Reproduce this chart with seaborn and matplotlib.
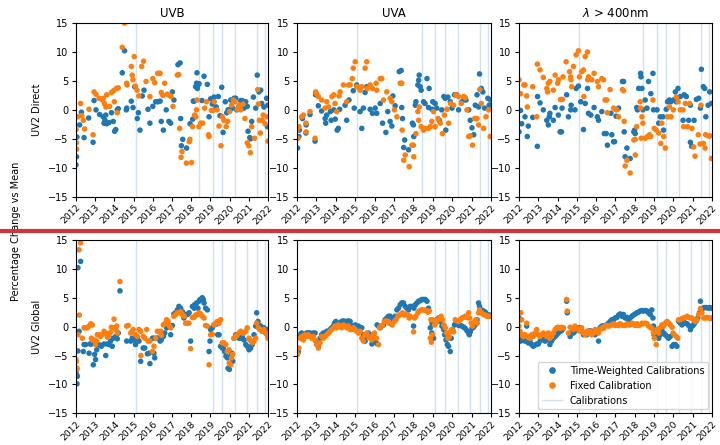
import matplotlib
matplotlib.use("Agg")
import matplotlib.pyplot as plt
import pandas as pd
import seaborn as sns
from matplotlib.lines import Line2D

BASE_YEAR = 2012
bands = ["UVB", "UVA", r"$\lambda$ > 400nm"]
rows = ["UV2 Direct", "UV2 Global"]
series = ["Time-Weighted Calibrations", "Fixed Calibration"]
colors = {"Time-Weighted Calibrations": "#1f77b4", "Fixed Calibration": "#ff7f0e"}
cal_direct = [2015.1, 2018.42, 2019.13, 2019.63, 2020.28, 2021.42, 2021.82]
cal_global = [2015.1, 2019.13, 2019.63, 2020.28, 2020.92, 2021.42, 2021.82]
year_ticks = list(range(2012, 2023))
y_ticks = [-15, -10, -5, 0, 5, 10, 15]

# (years since 2012, percentage change)
uvb_dir_tw = [(0.0,-9.5),(0.03,-8.1),(0.05,-4.7),(0.19,-2.6),(0.28,-0.4),(0.42,-4.8),(0.66,-1.4),(0.89,-5.6),(0.94,1.6),(1.04,0.0),(1.23,-0.8),(1.42,-1.2),(1.46,-2.3),(1.51,-1.8),(1.55,-0.9),(1.6,-2.4),(1.72,-2.2),(1.85,-0.5),(1.94,-2.0),(2.01,-3.7),(2.07,-3.4),(2.15,0.0),(2.2,0.2),(2.41,6.4),(2.53,10.2),(2.62,0.0),(2.64,0.3),(2.88,1.5),(2.97,0.4),(3.06,4.0),(3.19,-1.5),(3.25,-0.5),(3.33,-3.5),(3.45,2.4),(3.54,3.4),(3.75,0.1),(3.85,-2.3),(4.0,0.6),(4.15,1.4),(4.27,1.4),(4.38,1.5),(4.44,-2.0),(4.55,-3.5),(4.7,0.0),(4.84,-2.0),(4.93,-2.3),(5.02,3.1),(5.1,1.7),(5.31,7.8),(5.42,8.1),(5.45,-1.5),(5.49,-6.2),(5.56,-5.1),(5.76,-6.6),(5.94,-2.4),(6.08,-1.6),(6.11,1.5),(6.15,1.5),(6.23,4.0),(6.28,4.6),(6.3,6.4),(6.32,3.7),(6.35,4.3),(6.41,4.5),(6.56,1.6),(6.67,5.8),(6.84,4.4),(6.93,-1.2),(7.01,1.9),(7.1,1.0),(7.19,2.2),(7.3,0.5),(7.41,2.3),(7.5,-1.0),(7.59,3.9),(7.66,-3.9),(7.78,1.4),(7.85,-0.5),(7.92,0.0),(8.02,0.0),(8.06,1.7),(8.15,0.3),(8.23,2.0),(8.32,2.0),(8.37,0.0),(8.49,0.6),(8.58,1.6),(8.66,1.6),(8.75,0.3),(8.84,1.4),(8.92,0.6),(8.96,-3.7),(9.05,-4.8),(9.1,-5.0),(9.15,-2.0),(9.24,2.2),(9.36,0.3),(9.44,6.0),(9.53,3.1),(9.62,3.4),(9.67,1.1),(9.79,0.5),(9.93,2.0),(9.97,-2.9),(10.0,0.8)]
uvb_dir_fx = [(0.0,-3.4),(0.02,-5.7),(0.03,-6.8),(0.1,-1.2),(0.24,1.1),(0.3,-1.0),(0.38,-1.8),(0.45,-3.3),(0.68,0.1),(0.89,-4.3),(0.94,3.1),(1.04,2.7),(1.2,2.0),(1.38,1.7),(1.42,2.0),(1.48,1.1),(1.56,0.5),(1.6,2.6),(1.75,0.6),(1.85,3.0),(1.95,3.3),(2.0,1.4),(2.1,3.7),(2.2,3.8),(2.15,-0.5),(2.41,10.8),(2.53,15.0),(2.64,4.6),(2.66,4.3),(2.88,7.5),(2.93,6.0),(2.97,5.2),(3.03,9.2),(3.1,4.1),(3.18,3.4),(3.27,2.4),(3.42,7.5),(3.52,8.4),(3.65,4.9),(3.85,2.3),(4.0,5.4),(4.1,4.7),(4.25,6.3),(4.32,6.3),(4.38,6.3),(4.44,3.0),(4.52,2.5),(4.62,4.6),(4.75,2.7),(4.88,2.5),(4.95,2.3),(5.05,0.6),(5.28,6.0),(5.35,6.1),(5.4,-3.2),(5.47,-8.2),(5.52,-7.2),(5.75,-9.2),(5.9,-5.5),(5.93,-5.1),(6.02,-9.1),(6.07,-2.9),(6.18,-0.9),(6.25,-1.2),(6.28,0.0),(6.32,1.7),(6.4,-2.9),(6.5,-2.3),(6.6,-2.3),(6.7,0.3),(6.8,1.4),(6.9,-4.3),(6.93,-4.6),(7.05,-0.1),(7.12,-0.1),(7.2,1.4),(7.35,0.0),(7.45,-2.8),(7.55,-6.2),(7.62,-1.2),(7.7,-1.8),(7.82,-2.9),(7.9,-2.0),(8.0,-0.3),(8.1,0.8),(8.2,1.7),(8.28,1.4),(8.4,0.1),(8.5,0.8),(8.58,0.0),(8.7,1.0),(8.8,-1.5),(8.92,-5.7),(9.0,-6.2),(9.08,-7.4),(9.15,-2.9),(9.3,-4.9),(9.46,3.5),(9.5,1.0),(9.55,-1.8),(9.6,-4.0),(9.7,-1.8),(9.75,-0.9),(9.85,-2.4),(9.95,-1.2),(10.0,-5.4)]

uva_dir_tw = [(0.03,-6.6),(0.1,-4.6),(0.12,-3.5),(0.28,-1.5),(0.46,-4.0),(0.47,-2.6),(0.67,-0.8),(0.93,-5.4),(0.96,2.6),(1.1,0.7),(1.27,-0.2),(1.45,-1.5),(1.48,-2.3),(1.53,-0.9),(1.72,-0.3),(1.76,-1.8),(1.9,0.0),(1.97,-1.6),(2.07,-3.5),(2.13,-3.2),(2.2,0.1),(2.48,0.8),(2.56,-1.8),(2.68,1.7),(2.9,3.3),(2.95,0.3),(3.08,4.3),(3.25,-0.3),(3.34,-3.2),(3.42,0.3),(3.51,3.0),(3.6,4.0),(3.77,0.1),(3.89,-0.6),(4.03,0.3),(4.11,-0.6),(4.29,1.1),(4.41,-2.3),(4.58,-3.9),(4.68,-0.3),(4.8,-2.0),(4.89,-2.8),(4.94,2.4),(5.06,0.7),(5.27,6.6),(5.37,6.8),(5.4,0.4),(5.44,-1.5),(5.5,-6.5),(5.55,-5.2),(5.75,-6.9),(5.95,-2.3),(6.0,-2.6),(6.02,-4.6),(6.1,0.8),(6.13,1.4),(6.23,4.3),(6.27,5.1),(6.3,6.0),(6.35,4.0),(6.4,3.4),(6.52,1.4),(6.6,1.1),(6.7,5.4),(6.78,0.4),(6.81,3.7),(6.96,0.1),(7.0,1.4),(7.12,1.1),(7.2,0.3),(7.33,-1.8),(7.46,0.0),(7.57,2.3),(7.64,2.0),(7.67,-3.5),(7.78,2.2),(7.9,1.4),(7.99,0.3),(8.12,2.6),(8.24,2.6),(8.33,0.0),(8.5,1.4),(8.62,2.0),(8.71,1.7),(8.85,0.0),(8.93,-1.8),(9.02,-3.1),(9.11,-4.3),(9.19,0.8),(9.28,2.6),(9.36,0.5),(9.41,6.2),(9.5,3.7),(9.58,3.1),(9.67,0.3),(9.84,2.0),(9.91,0.8),(9.98,1.7)]
uva_dir_fx = [(0.0,-3.5),(0.05,-4.9),(0.1,-2.9),(0.24,-1.2),(0.33,-0.9),(0.46,-2.3),(0.47,-3.8),(0.67,-0.3),(0.93,-4.9),(0.96,3.1),(1.01,2.8),(1.1,2.3),(1.27,1.7),(1.45,0.3),(1.53,1.4),(1.62,0.5),(1.8,2.3),(1.9,2.6),(1.96,1.1),(2.05,-0.3),(2.17,2.4),(2.22,3.1),(2.39,4.3),(2.56,1.4),(2.66,4.3),(2.74,4.3),(2.85,5.4),(2.9,7.2),(3.0,8.3),(3.08,4.0),(3.25,3.4),(3.34,4.0),(3.51,7.2),(3.6,8.3),(3.62,3.7),(3.77,4.3),(3.89,3.7),(4.08,4.6),(4.11,3.4),(4.29,5.4),(4.37,5.4),(4.46,1.7),(4.63,3.1),(4.8,2.0),(4.89,1.4),(5.02,0.0),(5.15,-1.2),(5.32,4.6),(5.4,4.6),(5.42,-3.5),(5.5,-8.7),(5.58,-7.8),(5.78,-9.8),(5.92,-6.1),(6.0,-6.1),(6.02,-8.1),(6.13,-4.1),(6.23,-0.3),(6.27,-1.8),(6.3,0.5),(6.4,-2.9),(6.52,-3.5),(6.6,-3.2),(6.78,-3.2),(6.87,-2.9),(6.95,-2.0),(7.04,-0.3),(7.12,-2.9),(7.27,-1.5),(7.39,-2.3),(7.5,-4.1),(7.6,-0.9),(7.73,0.1),(7.82,-2.3),(7.92,1.1),(8.07,0.8),(8.19,2.6),(8.33,2.3),(8.47,1.1),(8.6,2.3),(8.68,2.1),(8.76,0.0),(8.85,-4.6),(8.93,-4.5),(9.05,-6.1),(9.16,-1.5),(9.28,-1.5),(9.36,-2.6),(9.42,3.5),(9.5,1.1),(9.62,-3.2),(9.74,-1.2),(9.88,0.0),(9.96,-4.6)]

vis_dir_tw = [(0.0,-3.8),(0.08,-0.1),(0.14,-2.4),(0.31,-1.2),(0.43,-4.6),(0.48,-2.8),(0.71,-1.3),(0.95,-6.3),(0.96,2.3),(1.09,1.2),(1.26,0.0),(1.44,-1.8),(1.52,-2.6),(1.57,-1.2),(1.6,-0.6),(1.78,-1.8),(1.87,0.4),(2.04,-0.9),(2.13,-3.8),(2.2,-3.8),(2.23,0.3),(2.47,2.6),(2.56,-1.2),(2.68,0.0),(2.7,0.8),(2.9,0.0),(2.96,3.7),(3.08,4.1),(3.2,1.4),(3.34,-3.4),(3.43,1.1),(3.55,3.7),(3.6,-0.6),(3.72,-0.9),(3.89,0.4),(4.06,-1.2),(4.12,-1.8),(4.29,-0.3),(4.42,-4.1),(4.52,-4.1),(4.58,-6.1),(4.76,-0.6),(4.81,-4.3),(4.9,-5.5),(4.95,-5.5),(5.03,-1.1),(5.16,0.3),(5.36,4.9),(5.42,4.9),(5.45,-3.8),(5.5,-8.1),(5.59,-6.6),(5.76,-8.4),(5.95,-3.8),(5.99,-3.5),(6.02,-4.1),(6.1,0.4),(6.14,0.0),(6.2,3.7),(6.3,6.3),(6.32,5.7),(6.37,3.7),(6.42,0.0),(6.54,1.7),(6.63,0.3),(6.71,4.9),(6.83,2.8),(6.94,6.3),(6.97,0.0),(7.15,0.0),(7.24,-2.3),(7.32,-1.2),(7.46,-1.2),(7.49,-3.5),(7.63,0.1),(7.7,1.4),(7.79,1.7),(7.87,1.4),(8.0,1.7),(8.1,3.1),(8.15,1.4),(8.24,3.7),(8.36,2.3),(8.5,-1.8),(8.56,2.6),(8.67,2.3),(8.79,-1.8),(8.88,0.8),(8.88,-5.6),(8.95,-6.3),(9.07,-1.8),(9.19,1.8),(9.31,2.0),(9.4,0.3),(9.45,7.0),(9.55,4.0),(9.62,3.7),(9.68,-1.2),(9.8,0.8),(9.88,3.1),(9.97,1.1)]
vis_dir_fx = [(0.0,5.2),(0.08,2.8),(0.25,4.3),(0.31,4.3),(0.4,2.4),(0.43,0.5),(0.71,4.0),(0.92,-1.2),(0.95,7.9),(1.09,6.9),(1.26,5.6),(1.44,3.7),(1.48,3.1),(1.52,4.6),(1.6,4.9),(1.78,3.4),(1.87,6.0),(2.0,4.6),(2.05,5.2),(2.15,1.8),(2.25,1.8),(2.28,5.7),(2.44,8.3),(2.62,6.6),(2.68,5.7),(2.69,5.2),(2.73,4.0),(2.82,7.5),(2.96,9.5),(3.08,10.2),(3.13,5.7),(3.25,6.6),(3.34,6.9),(3.36,2.3),(3.43,9.2),(3.55,10.0),(3.56,5.2),(3.6,5.7),(3.77,5.2),(3.89,6.3),(4.06,4.9),(4.12,4.0),(4.29,5.4),(4.38,5.2),(4.46,1.7),(4.55,1.7),(4.58,-0.5),(4.72,3.5),(4.9,0.3),(4.98,0.1),(5.06,0.0),(5.16,-1.2),(5.36,3.5),(5.42,3.3),(5.45,-2.0),(5.5,-9.7),(5.59,-8.7),(5.76,-10.9),(5.95,-5.2),(6.02,-5.1),(6.03,-7.8),(6.1,-2.9),(6.28,1.4),(6.3,0.3),(6.33,-4.9),(6.37,-1.2),(6.42,-2.3),(6.54,-4.9),(6.66,-4.6),(6.76,-4.3),(6.83,-4.6),(6.94,1.7),(7.01,-3.2),(7.11,-3.5),(7.24,-4.0),(7.35,-5.8),(7.4,-2.3),(7.5,-4.6),(7.58,-6.6),(7.7,-1.2),(7.8,0.5),(7.88,-1.2),(8.0,0.0),(8.15,2.2),(8.24,1.4),(8.36,0.0),(8.5,0.0),(8.53,-2.9),(8.62,1.1),(8.74,-2.9),(8.84,1.1),(8.96,-3.2),(9.05,-6.4),(9.12,-8.0),(9.29,-4.3),(9.38,-5.9),(9.43,0.8),(9.55,-5.8),(9.64,-6.6),(9.67,-4.3),(9.82,-4.5),(9.9,-4.5),(9.97,-8.4)]

uvb_glo_tw = [(0.0,-7.7),(0.03,-8.3),(0.05,-9.9),(0.07,-8.6),(0.1,10.2),(0.24,11.3),(0.1,-4.2),(0.16,-0.8),(0.38,-4.3),(0.42,-3.1),(0.5,-3.1),(0.68,-4.6),(0.73,-3.0),(0.8,-3.0),(0.9,-6.6),(0.97,-4.8),(1.02,-5.7),(1.08,-4.0),(1.15,-3.1),(1.25,-3.2),(1.32,-3.4),(1.46,-3.0),(1.55,-5.0),(1.63,-3.0),(1.72,-3.1),(1.8,-2.5),(1.89,-3.4),(1.94,-2.0),(2.07,-1.7),(2.15,-2.1),(2.2,-1.1),(2.29,6.2),(2.64,-2.5),(2.85,-2.5),(2.93,-2.0),(3.02,-2.3),(3.1,-3.1),(3.19,-2.0),(3.28,-2.5),(3.37,-6.0),(3.5,-3.7),(3.58,-3.7),(3.72,-4.7),(3.8,-4.6),(3.85,-6.4),(3.98,-2.0),(4.06,-2.0),(4.06,-4.6),(4.1,-5.4),(4.2,-2.0),(4.27,-2.0),(4.38,-2.5),(4.44,-2.3),(4.55,-1.7),(4.62,-1.1),(4.72,-0.2),(4.79,0.0),(4.84,0.0),(4.93,-1.4),(5.02,0.2),(5.1,2.2),(5.19,2.4),(5.28,2.9),(5.36,3.5),(5.45,3.2),(5.54,2.6),(5.62,1.5),(5.71,2.1),(5.8,2.1),(5.89,2.4),(5.97,-2.5),(6.06,3.5),(6.15,3.2),(6.18,3.8),(6.23,3.8),(6.28,4.1),(6.35,3.2),(6.41,4.4),(6.46,4.7),(6.49,4.7),(6.58,5.0),(6.63,4.7),(6.67,4.1),(6.75,3.2),(6.84,2.9),(6.93,-4.3),(6.98,-2.5),(7.01,-0.5),(7.1,-0.2),(7.19,0.3),(7.28,0.5),(7.36,0.5),(7.38,-1.4),(7.45,-1.4),(7.53,-3.4),(7.62,-3.7),(7.67,-3.7),(7.74,-4.3),(7.81,-5.1),(7.88,-5.4),(7.92,-7.2),(7.99,-7.4),(8.06,-5.1),(8.12,-4.6),(8.16,-6.0),(8.23,-2.0),(8.32,-1.4),(8.4,-1.4),(8.49,-2.0),(8.58,-2.0),(8.66,-1.7),(8.75,-2.3),(8.84,-3.1),(8.92,-3.4),(9.01,-4.0),(9.1,-3.7),(9.18,-3.1),(9.27,-1.4),(9.36,0.1),(9.41,2.4),(9.48,0.9),(9.55,0.2),(9.62,0.1),(9.7,-0.8),(9.79,-0.2),(9.88,-1.1),(9.96,-0.5),(10.0,-1.4)]
uvb_glo_fx = [(0.0,-5.7),(0.02,-6.0),(0.05,-7.2),(0.04,-7.4),(0.1,-1.4),(0.16,13.3),(0.24,14.5),(0.17,2.0),(0.33,-2.0),(0.42,-0.2),(0.5,-0.2),(0.59,-0.2),(0.68,0.1),(0.77,0.5),(0.85,0.3),(0.8,-2.0),(0.86,-2.3),(0.97,-2.3),(1.02,-3.1),(1.08,-2.5),(1.11,-1.4),(1.2,-1.4),(1.28,-1.7),(1.37,-1.4),(1.46,-0.8),(1.55,-1.1),(1.63,-1.8),(1.72,-1.4),(1.8,-1.0),(1.84,-0.1),(1.94,-0.2),(1.98,1.3),(2.07,-0.5),(2.12,0.1),(2.15,-1.1),(2.29,7.8),(2.64,0.1),(2.72,0.2),(2.85,-1.1),(2.93,-0.8),(2.98,-0.5),(3.11,-1.4),(3.19,-1.7),(3.28,-0.5),(3.37,-0.8),(3.38,-5.0),(3.5,-1.7),(3.58,-2.0),(3.68,-0.5),(3.75,-2.5),(3.85,-2.5),(3.98,-4.3),(4.06,-3.4),(4.15,-2.0),(4.24,-0.8),(4.32,-0.9),(4.41,-0.8),(4.45,-1.5),(4.55,0.3),(4.62,0.5),(4.72,1.2),(4.8,0.9),(4.85,0.2),(4.93,-0.2),(5.1,1.8),(5.19,2.1),(5.28,2.4),(5.37,2.4),(5.45,2.6),(5.54,2.1),(5.63,1.8),(5.71,0.6),(5.8,0.6),(5.88,0.6),(5.97,-3.8),(6.06,1.6),(6.15,1.6),(6.23,2.0),(6.32,2.1),(6.41,2.4),(6.49,2.2),(6.58,1.8),(6.67,1.5),(6.75,0.2),(6.84,0.1),(6.93,-6.6),(7.01,-1.4),(7.1,-1.3),(7.19,0.3),(7.28,0.6),(7.36,0.9),(7.45,0.6),(7.53,1.2),(7.62,-2.8),(7.71,-2.8),(7.8,-3.1),(7.88,-4.3),(7.97,-4.0),(7.98,-6.3),(8.06,-6.6),(8.1,-5.4),(8.16,-4.8),(8.23,-2.0),(8.32,-1.7),(8.4,-1.4),(8.49,-1.1),(8.58,-0.8),(8.66,-1.1),(8.75,-1.1),(8.84,-0.8),(8.92,-0.2),(9.01,-2.0),(9.06,-2.3),(9.13,-2.5),(9.2,-2.8),(9.27,-2.5),(9.36,-2.0),(9.41,0.6),(9.5,-0.2),(9.58,-0.5),(9.7,-0.8),(9.79,-0.5),(9.88,-1.1),(9.96,-1.4),(10.0,-2.0)]

uva_glo_tw = [(0.0,-3.7),(0.03,-4.6),(0.07,-4.3),(0.1,-1.8),(0.15,-1.4),(0.24,-1.1),(0.33,-1.4),(0.4,-1.3),(0.5,-1.1),(0.59,-1.1),(0.67,-1.1),(0.76,-1.4),(0.84,-1.1),(0.93,-1.1),(0.97,-2.5),(1.02,-3.1),(1.1,-3.4),(1.19,-2.0),(1.27,-1.4),(1.36,-1.1),(1.45,-1.4),(1.53,-0.8),(1.62,-1.1),(1.7,-0.5),(1.79,-0.2),(1.88,0.1),(1.93,0.6),(2.0,0.9),(2.05,0.6),(2.13,0.6),(2.22,0.3),(2.3,0.9),(2.4,1.0),(2.48,0.6),(2.57,0.9),(2.65,1.0),(2.74,0.9),(2.82,0.1),(2.91,0.1),(3.0,0.3),(3.08,-0.2),(3.17,0.1),(3.25,-0.2),(3.34,-0.2),(3.42,-1.4),(3.51,-2.5),(3.6,-1.7),(3.68,-1.1),(3.77,-1.4),(3.86,-3.0),(3.94,-2.0),(4.03,-2.3),(4.11,-2.9),(4.13,0.3),(4.2,0.1),(4.29,-0.2),(4.37,0.1),(4.46,0.3),(4.54,1.2),(4.63,1.5),(4.72,1.8),(4.8,1.8),(4.89,1.5),(4.97,1.2),(5.06,1.8),(5.15,2.9),(5.23,3.2),(5.32,3.8),(5.4,4.1),(5.49,4.1),(5.58,3.5),(5.66,3.2),(5.75,2.9),(5.83,3.5),(5.92,3.5),(6.01,0.1),(6.03,3.2),(6.1,3.8),(6.18,4.1),(6.27,4.4),(6.35,4.5),(6.44,4.7),(6.52,4.7),(6.61,4.7),(6.7,4.4),(6.78,3.2),(6.87,-0.2),(6.95,-1.1),(6.96,0.6),(7.04,-2.0),(7.13,0.6),(7.21,1.2),(7.3,1.5),(7.39,0.9),(7.47,0.1),(7.56,-0.5),(7.61,-1.4),(7.68,-2.3),(7.75,-3.1),(7.81,-3.4),(7.9,-4.3),(7.95,-2.0),(8.02,-0.5),(8.12,0.3),(8.19,0.6),(8.25,0.5),(8.33,0.2),(8.42,0.2),(8.5,0.1),(8.59,-0.1),(8.67,-0.3),(8.76,-0.7),(8.85,-1.1),(8.88,-1.4),(8.93,-0.9),(9.02,-0.3),(9.1,-0.1),(9.19,0.3),(9.28,1.2),(9.36,4.1),(9.41,3.5),(9.5,2.9),(9.62,2.7),(9.71,2.5),(9.79,2.1),(9.88,2.0),(9.96,2.0)]
uva_glo_fx = [(0.0,-4.6),(0.03,-4.8),(0.1,-3.7),(0.15,-2.0),(0.24,-1.7),(0.33,-2.3),(0.4,-1.4),(0.5,-1.7),(0.59,-1.4),(0.67,-1.7),(0.76,-2.0),(0.84,-1.7),(0.93,-2.3),(1.02,-3.1),(1.1,-3.7),(1.19,-2.8),(1.27,-1.7),(1.36,-2.0),(1.45,-1.7),(1.53,-1.4),(1.62,-1.1),(1.7,-0.8),(1.79,-0.5),(1.88,-0.2),(1.96,0.1),(2.05,-0.2),(2.13,0.3),(2.22,0.1),(2.3,-0.2),(2.4,0.3),(2.48,0.1),(2.57,-0.2),(2.65,0.1),(2.74,-0.5),(2.82,-0.5),(2.91,-0.2),(3.0,-0.5),(3.08,-0.8),(3.17,-1.1),(3.25,-0.8),(3.34,-2.0),(3.42,-2.5),(3.5,-1.4),(3.6,-1.1),(3.68,-1.7),(3.77,-2.0),(3.86,-2.3),(3.94,-1.4),(4.0,-1.1),(4.1,-2.0),(4.2,-3.1),(4.25,-0.2),(4.33,0.1),(4.4,0.2),(4.5,0.9),(4.57,1.0),(4.67,0.9),(4.75,0.6),(4.85,0.5),(4.92,0.3),(5.03,0.9),(5.1,1.2),(5.2,1.8),(5.27,2.0),(5.37,2.1),(5.44,2.4),(5.54,2.0),(5.6,2.2),(5.71,2.0),(5.78,1.5),(5.83,1.8),(6.01,-0.9),(6.06,1.5),(6.13,1.8),(6.23,2.4),(6.3,2.7),(6.4,2.9),(6.47,2.9),(6.57,2.9),(6.64,2.8),(6.75,2.5),(6.82,2.7),(6.87,-2.0),(6.9,1.2),(6.93,-2.7),(6.98,-1.4),(6.99,1.2),(7.09,0.3),(7.16,0.6),(7.26,1.2),(7.33,1.5),(7.43,1.8),(7.5,1.2),(7.57,0.3),(7.64,-0.2),(7.71,-1.1),(7.78,-2.0),(7.85,-1.7),(7.92,-0.8),(7.99,-0.5),(8.07,-0.9),(8.16,1.2),(8.25,1.0),(8.33,0.9),(8.42,1.2),(8.5,1.5),(8.59,1.6),(8.67,1.8),(8.76,1.6),(8.85,2.4),(8.9,1.5),(8.98,0.6),(9.05,0.1),(9.16,0.9),(9.22,1.2),(9.29,0.6),(9.36,2.4),(9.41,2.9),(9.5,2.4),(9.62,2.1),(9.71,2.0),(9.79,1.8),(9.88,1.8),(9.96,1.8)]

vis_glo_tw = [(0.0,1.5),(0.09,1.2),(0.05,-2.0),(0.08,-2.5),(0.14,-2.0),(0.22,-2.3),(0.31,-2.5),(0.4,0.1),(0.48,-2.8),(0.57,-2.5),(0.66,-3.1),(0.74,-3.4),(0.83,-3.2),(0.92,-3.0),(1.0,-3.0),(1.09,-2.5),(1.17,-2.0),(1.26,-2.0),(1.35,-2.5),(1.44,-2.3),(1.52,-2.0),(1.6,-3.1),(1.69,-2.5),(1.78,-2.0),(1.87,-1.7),(1.95,-1.4),(2.04,-1.1),(2.13,-0.8),(2.21,-0.7),(2.3,-0.3),(2.47,4.4),(2.5,2.4),(2.65,-1.7),(2.68,-1.1),(2.82,-1.1),(2.9,-0.8),(2.99,-0.5),(3.08,-0.2),(3.16,-0.2),(3.25,-0.8),(3.34,-1.4),(3.42,-1.1),(3.51,-1.4),(3.6,-0.8),(3.68,-0.7),(3.77,-1.1),(3.86,-0.8),(3.94,-1.4),(4.03,-1.1),(4.12,-2.5),(4.2,-0.2),(4.29,0.1),(4.38,0.1),(4.46,0.2),(4.55,0.3),(4.64,0.6),(4.72,0.9),(4.81,1.2),(4.9,1.2),(4.98,1.5),(5.07,1.6),(5.16,2.0),(5.24,2.2),(5.33,1.8),(5.41,2.1),(5.5,1.5),(5.59,1.6),(5.67,1.2),(5.76,1.5),(5.85,1.8),(5.93,2.0),(6.02,2.2),(6.11,2.4),(6.19,2.5),(6.28,2.7),(6.37,2.8),(6.45,2.7),(6.54,2.8),(6.63,2.7),(6.71,2.4),(6.8,2.1),(6.88,2.9),(6.94,1.5),(6.97,0.1),(7.0,-1.4),(7.06,-0.8),(7.15,-1.7),(7.24,-2.0),(7.32,-1.4),(7.4,-0.5),(7.49,-1.1),(7.58,-1.4),(7.67,-1.7),(7.75,-2.0),(7.84,-1.7),(7.93,-3.4),(8.01,-3.1),(8.1,-3.1),(8.18,-3.4),(8.27,0.9),(8.36,0.6),(8.45,0.3),(8.53,0.9),(8.62,0.6),(8.71,0.5),(8.79,0.2),(8.88,-0.5),(8.91,-0.2),(9.02,0.2),(9.1,0.6),(9.19,1.0),(9.26,1.5),(9.36,2.4),(9.4,4.4),(9.45,3.1),(9.53,3.2),(9.62,3.3),(9.71,3.3),(9.8,3.2),(9.88,3.3),(9.97,3.2)]
vis_glo_fx = [(0.0,0.1),(0.09,2.4),(0.14,1.2),(0.05,-0.8),(0.14,-1.4),(0.22,-1.7),(0.31,-1.4),(0.4,0.6),(0.48,-1.7),(0.57,-2.0),(0.66,-1.4),(0.74,-1.7),(0.83,-1.1),(0.92,-0.5),(1.0,-1.4),(1.09,-1.7),(1.17,-1.4),(1.26,-1.1),(1.35,-1.4),(1.44,-1.7),(1.52,-1.1),(1.6,-2.0),(1.69,-1.7),(1.78,-1.1),(1.87,-0.5),(1.95,-0.2),(2.04,-0.1),(2.13,-0.3),(2.21,-0.1),(2.3,-0.2),(2.47,4.7),(2.5,2.7),(2.56,-1.1),(2.65,-0.1),(2.73,-0.2),(2.82,-0.5),(2.9,0.1),(2.99,-0.2),(3.08,-0.5),(3.16,-0.8),(3.25,-0.2),(3.34,-1.1),(3.43,-1.4),(3.51,-0.8),(3.6,-1.1),(3.68,-0.8),(3.77,-1.4),(3.86,-1.1),(3.94,-0.5),(4.03,-0.8),(4.12,-1.1),(4.2,-0.5),(4.29,-0.2),(4.38,-0.3),(4.46,0.1),(4.55,0.2),(4.64,0.1),(4.72,0.2),(4.81,0.3),(4.9,0.5),(4.98,0.2),(5.07,0.3),(5.16,0.2),(5.24,0.5),(5.33,0.3),(5.41,0.2),(5.5,0.2),(5.59,0.5),(5.68,0.3),(5.76,0.3),(5.85,0.6),(5.93,0.5),(6.02,0.2),(6.11,0.5),(6.19,0.2),(6.28,0.3),(6.37,0.6),(6.45,0.5),(6.54,0.6),(6.63,0.5),(6.71,0.1),(6.8,-0.1),(6.88,-0.3),(6.97,-1.1),(7.01,-2.0),(7.11,-3.1),(7.15,-0.5),(7.24,-1.1),(7.32,-0.2),(7.4,0.3),(7.49,0.1),(7.58,0.6),(7.67,0.9),(7.76,0.6),(7.84,0.3),(7.93,-0.1),(7.98,-1.1),(8.05,-1.4),(8.15,-1.7),(8.23,-2.0),(8.27,1.2),(8.36,1.2),(8.45,1.4),(8.53,1.5),(8.62,1.6),(8.71,1.8),(8.79,1.6),(8.88,1.5),(8.96,1.5),(9.05,1.2),(9.14,0.9),(9.22,1.2),(9.31,2.1),(9.4,3.1),(9.48,2.4),(9.57,1.5),(9.66,1.5),(9.74,1.6),(9.83,1.5),(9.92,1.4),(9.97,1.5)]

panel_data = [
    [(uvb_dir_tw, uvb_dir_fx), (uva_dir_tw, uva_dir_fx), (vis_dir_tw, vis_dir_fx)],
    [(uvb_glo_tw, uvb_glo_fx), (uva_glo_tw, uva_glo_fx), (vis_glo_tw, vis_glo_fx)],
]
cal_dates = [cal_direct, cal_global]


def to_frame(tw, fx):
    recs = []
    for name, pts in zip(series, (tw, fx)):
        for t, v in pts:
            recs.append({"year": BASE_YEAR + t, "change": v, "series": name})
    return pd.DataFrame(recs)


plt.rcParams["axes.unicode_minus"] = True
fig = plt.figure(figsize=(7.2, 4.45), dpi=100)

lefts = [76 / 720, 297 / 720, 519 / 720]
widths = [192 / 720, 194 / 720, 193 / 720]
bottoms = [1 - 196.7 / 445, 1 - 413.3 / 445]
heights = [173.7 / 445, 173.3 / 445]

cal_color = (0.121, 0.466, 0.705, 0.2)
last_ax = None
for r in range(2):
    for c in range(3):
        ax = fig.add_axes([lefts[c], bottoms[r], widths[c], heights[r]])
        for d in cal_dates[r]:
            ax.axvline(d, color=cal_color, lw=1.0, zorder=0)
        df = to_frame(*panel_data[r][c])
        sns.scatterplot(data=df, x="year", y="change", hue="series",
                        hue_order=series, palette=colors, s=16, linewidth=0,
                        legend=False, ax=ax, zorder=2)
        ax.set_xlim(2012, 2022)
        ax.set_ylim(-15, 15)
        ax.set_xticks(year_ticks)
        ax.set_xticklabels([str(y) for y in year_ticks], rotation=45,
                           ha="right", rotation_mode="anchor", fontsize=6.6)
        ax.set_yticks(y_ticks)
        ax.tick_params(axis="y", labelsize=7, length=3, pad=2.5)
        ax.tick_params(axis="x", length=3, pad=1.5)
        ax.set_xlabel("")
        ax.set_ylabel(rows[r] if c == 0 else "", fontsize=7)
        if r == 0:
            ax.set_title(bands[c], fontsize=8.5, pad=4)
        last_ax = ax

handles = [
    Line2D([], [], marker="o", linestyle="", color=colors[series[0]], markersize=3.8),
    Line2D([], [], marker="o", linestyle="", color=colors[series[1]], markersize=3.8),
    Line2D([], [], color=cal_color, lw=1.0),
]
last_ax.legend(handles, series + ["Calibrations"], loc="lower right", fontsize=7,
               handlelength=2.0, borderaxespad=0.4)

fig.text(0.022, 0.48, "Percentage Change vs Mean", rotation=90,
         ha="center", va="center", fontsize=7)

fig.add_artist(Line2D([0, 1], [1 - 231 / 445, 1 - 231 / 445],
                      transform=fig.transFigure, color="#d2343c", lw=3, zorder=20))

fig.savefig("out.png", dpi=100)
